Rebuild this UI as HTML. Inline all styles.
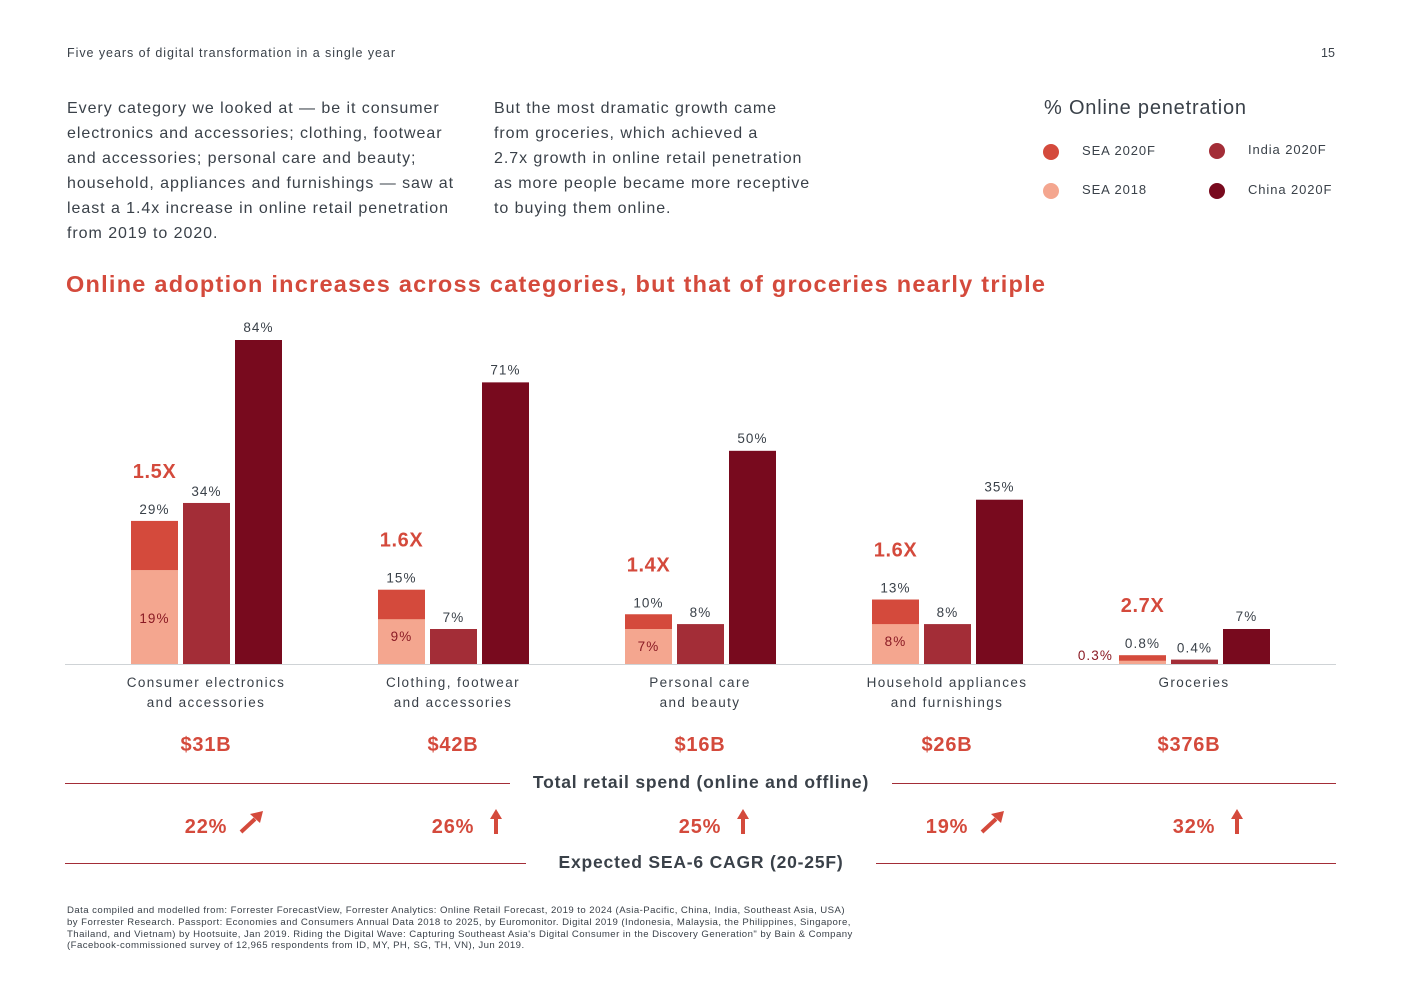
<!DOCTYPE html>
<html><head><meta charset="utf-8"><style>
body{margin:0;width:1403px;height:992px;background:#fff;font-family:"Liberation Sans",sans-serif;color:#3a4149;position:relative;overflow:hidden}
.a{position:absolute;white-space:nowrap}
.p{font-size:16px;line-height:25px;letter-spacing:0.95px;color:#3a4149}
.red{color:#d44a3c}
</style></head><body>
<div class="a" style="left:67px;top:46px;font-size:12.5px;letter-spacing:0.95px">Five years of digital transformation in a single year</div>
<div class="a" style="left:1321px;top:46px;font-size:12.5px">15</div>
<div class="a p" style="left:67px;top:96px">Every category we looked at — be it consumer<br>electronics and accessories; clothing, footwear<br>and accessories; personal care and beauty;<br>household, appliances and furnishings — saw at<br>least a 1.4x increase in online retail penetration<br>from 2019 to 2020.</div>
<div class="a p" style="left:494px;top:96px">But the most dramatic growth came<br>from groceries, which achieved a<br>2.7x growth in online retail penetration<br>as more people became more receptive<br>to buying them online.</div>
<div class="a" style="left:1044px;top:97px;font-size:20px;letter-spacing:0.8px">% Online penetration</div>
<div>
<div class="a" style="left:1043px;top:143px;font-size:13px;letter-spacing:0.9px"><span style="display:inline-block;width:16px;height:16px;border-radius:50%;background:#d44a3c;vertical-align:middle;margin-right:23px"></span>SEA 2020F</div>
<div class="a" style="left:1043px;top:182px;font-size:13px;letter-spacing:0.9px"><span style="display:inline-block;width:16px;height:16px;border-radius:50%;background:#f4a68f;vertical-align:middle;margin-right:23px"></span>SEA 2018</div>
<div class="a" style="left:1209px;top:142px;font-size:13px;letter-spacing:0.9px"><span style="display:inline-block;width:16px;height:16px;border-radius:50%;background:#a32d37;vertical-align:middle;margin-right:23px"></span>India 2020F</div>
<div class="a" style="left:1209px;top:182px;font-size:13px;letter-spacing:0.9px"><span style="display:inline-block;width:16px;height:16px;border-radius:50%;background:#780a1e;vertical-align:middle;margin-right:23px"></span>China 2020F</div>
</div>
<div class="a red" style="left:66px;top:271px;font-size:23.5px;font-weight:bold;letter-spacing:1.25px">Online adoption increases across categories, but that of groceries nearly triple</div>
<svg id="chart" class="a" style="left:0;top:0" width="1403" height="992"></svg>
<script>
const categories=["Consumer electronics|and accessories","Clothing, footwear|and accessories","Personal care|and beauty","Household appliances|and furnishings","Groceries"];
const sea2018=[19,9,7,8,0.3];
const sea2020=[29,15,10,13,0.8];
const india2020=[34,7,8,8,0.4];
const china2020=[84,71,50,35,7];
const growth=["1.5X","1.6X","1.4X","1.6X","2.7X"];
const spend=["$31B","$42B","$16B","$26B","$376B"];
const cagr=["22%","26%","25%","19%","32%"];
const arrowDir=["diag","up","up","diag","up"];
const fmt=v=>v+"%";
const svg=document.getElementById('chart');const NS="http://www.w3.org/2000/svg";
const base=664;
const knotsV=[0,1,7,30,84];
const knotsH=[0,11,35,148,324];
function yH(v){for(let k=1;k<knotsV.length;k++){if(v<=knotsV[k]||k==knotsV.length-1){const t=(v-knotsV[k-1])/(knotsV[k]-knotsV[k-1]);return knotsH[k-1]+t*(knotsH[k]-knotsH[k-1]);}}return 0;}
function xG(i){return 131+i*247;}
function mk(t,a,p){const e=document.createElementNS(NS,t);for(const k in a)e.setAttribute(k,a[k]);(p||svg).appendChild(e);return e;}
function txt(x,y,s,a){const e=mk('text',Object.assign({x:x,y:y,'font-family':'Liberation Sans, sans-serif','text-anchor':'middle'},a));e.textContent=s;return e;}
const ax=mk('line',{x1:65,x2:1336,y1:base+0.5,y2:base+0.5,stroke:'#cfd3d6','stroke-width':1});


const W=47;
categories.forEach((c,i)=>{
 const x0=xG(i),x1=x0+52,x2=x0+104;
 const h20=yH(sea2020[i]),h18=yH(sea2018[i]);
 let r=mk('rect',{x:x0,y:base-h20,width:W,height:h20,fill:'#d44a3c'});
 
 
 r=mk('rect',{x:x0,y:base-h18,width:W,height:h18,fill:'#f4a68f'});
 
 
 const hi=yH(india2020[i]);
 r=mk('rect',{x:x1,y:base-hi,width:W,height:hi,fill:'#a32d37'});
 
 
 const hc=yH(china2020[i]);
 r=mk('rect',{x:x2,y:base-hc,width:W,height:hc,fill:'#780a1e'});
 
 
 const ls={'font-size':13.5,fill:'#3a4149','letter-spacing':1.1};
 let t=txt(x0+W/2,base-h20-7,fmt(sea2020[i]),ls);
 
 
 if(h18>25){t=txt(x0+W/2,sea2018[i]>15? base-h18+53 : base-h18+22,fmt(sea2018[i]),{'font-size':13.5,fill:'#8a1a24','letter-spacing':1.1});}
 else {t=txt(x0-6,base-4,fmt(sea2018[i]),{'font-size':13.5,fill:'#8a1a24','letter-spacing':1.1,'text-anchor':'end'});}
 
 
 t=txt(x1+W/2,base-hi-7,fmt(india2020[i]),ls);
 
 
 t=txt(x2+W/2,base-hc-8,fmt(china2020[i]),ls);
 
 
 t=txt(x0+W/2,base-h20-43,growth[i],{'font-size':20,'font-weight':'bold',fill:'#d44a3c','letter-spacing':0.6});
 
 
 const cx=x0+75;
 c.split('|').forEach((ln,k)=>{const e=txt(cx,base+23+k*20,ln,{'font-size':13.5,fill:'#3a4149','letter-spacing':1.4});
  
  });
 const sx=i==4?cx-5:cx;
 t=txt(sx,base+87,spend[i],{'font-size':20,'font-weight':'bold',fill:'#d44a3c','letter-spacing':0.8});
 
 
 const gx=cx;
 t=txt(gx,base+169,cagr[i],{'font-size':20,'font-weight':'bold',fill:'#d44a3c','letter-spacing':0.8});
 
 
 const g=mk('g',{fill:'#d44a3c',stroke:'#d44a3c'});
 
 
 const axx=gx+43,ay=base+158;
 if(arrowDir[i]=='up'){mk('line',{x1:axx,y1:ay+12,x2:axx,y2:ay-4,'stroke-width':4},g);mk('polygon',{points:`${axx-6},${ay-3} ${axx+6},${ay-3} ${axx},${ay-13}`,stroke:'none'},g);}
 else{mk('line',{x1:axx-8,y1:ay+10,x2:axx+6,y2:ay-3,'stroke-width':4},g);mk('polygon',{points:`${axx+1},${ay-8} ${axx+11},${ay+1} ${axx+14},${ay-11}`,stroke:'none'},g);}
});
[[65,510,892,1336,783],[65,526,876,1336,863]].forEach((l,k)=>{
 let e=mk('line',{x1:l[0],x2:l[1],y1:l[4]+0.5,y2:l[4]+0.5,stroke:'#a32d37','stroke-width':1});
 
 
 e=mk('line',{x1:l[2],x2:l[3],y1:l[4]+0.5,y2:l[4]+0.5,stroke:'#a32d37','stroke-width':1});
 
 
});
let s=txt(701,788,"Total retail spend (online and offline)",{'font-size':17.5,'font-weight':'bold',fill:'#3a4149','letter-spacing':0.8});


s=txt(701,868,"Expected SEA-6 CAGR (20-25F)",{'font-size':17.5,'font-weight':'bold',fill:'#3a4149','letter-spacing':0.8});


</script>
<div class="a" style="left:67px;top:905px;font-size:9.6px;line-height:11.8px;letter-spacing:0.45px;color:#3a4149">Data compiled and modelled from: Forrester ForecastView, Forrester Analytics: Online Retail Forecast, 2019 to 2024 (Asia-Pacific, China, India, Southeast Asia, USA)<br>by Forrester Research. Passport: Economies and Consumers Annual Data 2018 to 2025, by Euromonitor. Digital 2019 (Indonesia, Malaysia, the Philippines, Singapore,<br>Thailand, and Vietnam) by Hootsuite, Jan 2019. Riding the Digital Wave: Capturing Southeast Asia's Digital Consumer in the Discovery Generation" by Bain &amp; Company<br>(Facebook-commissioned survey of 12,965 respondents from ID, MY, PH, SG, TH, VN), Jun 2019.</div>
</body></html>
